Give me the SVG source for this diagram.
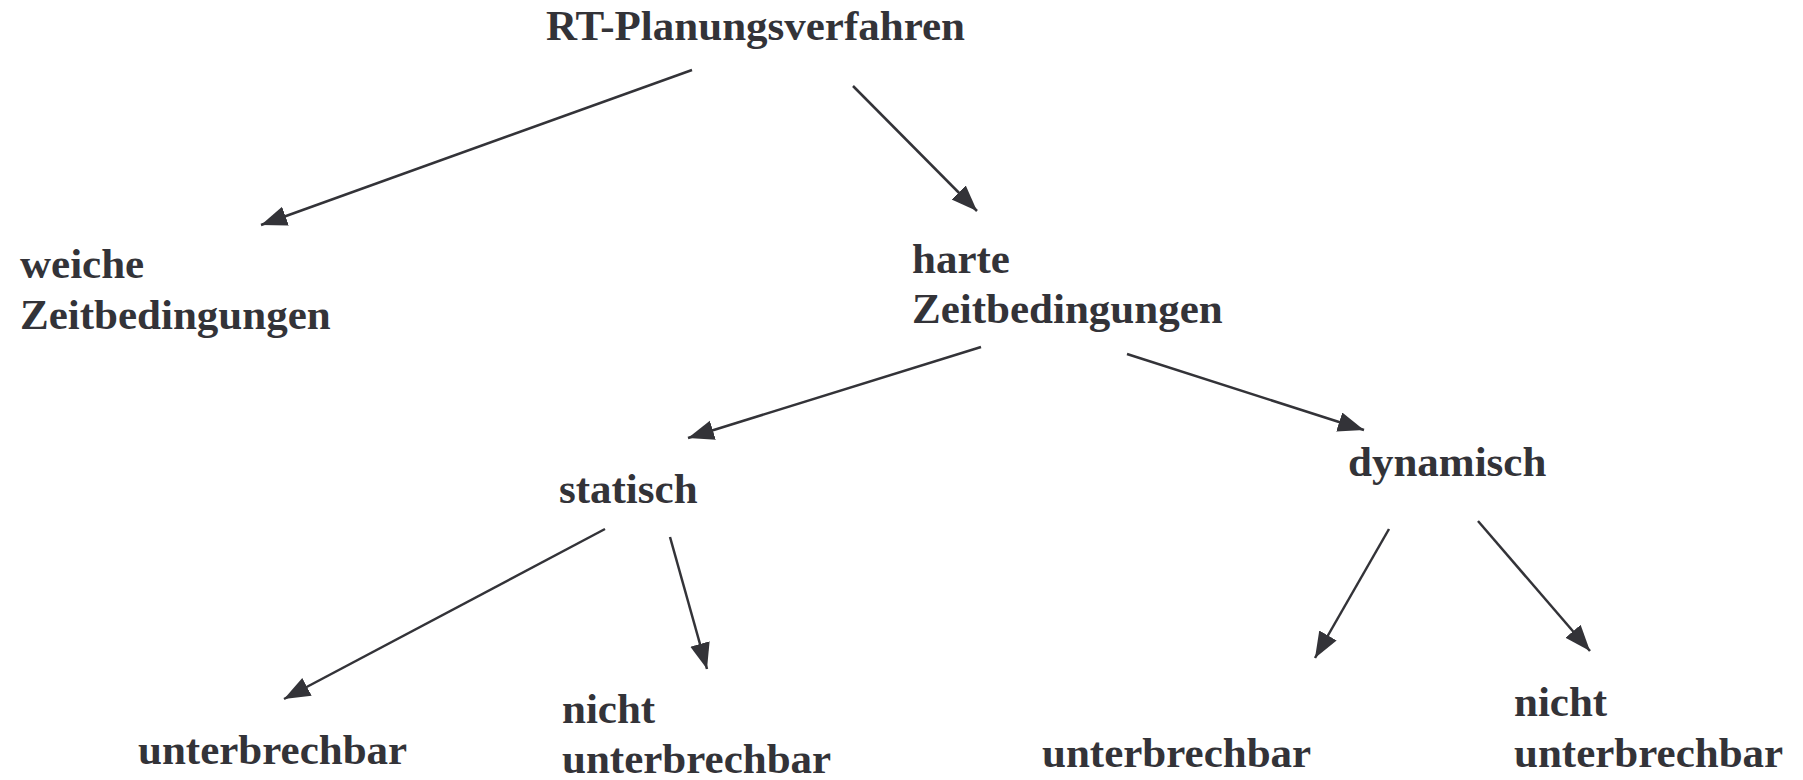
<svg xmlns="http://www.w3.org/2000/svg" width="1803" height="780" viewBox="0 0 1803 780">
<style>
text{font-family:"Liberation Serif","Times New Roman",serif;font-weight:bold;font-size:43px;fill:#333338}
.c line{stroke:#333338;stroke-width:2.5;fill:none;marker-end:url(#ah)}
</style>
<defs>
<marker id="ah" markerUnits="userSpaceOnUse" markerWidth="28" markerHeight="22" refX="26" refY="10" orient="auto" viewBox="0 0 28 22">
<path d="M0,0 L26,10 L0,20 z" fill="#333338"/>
</marker>
</defs>
<rect width="1803" height="780" fill="#fff"/>
<g id="n-root"><text x="546" y="40">RT-Planungsverfahren</text></g>
<g id="n-weich"><text x="20" y="278">weiche</text><text x="20" y="329">Zeitbedingungen</text></g>
<g id="n-hart"><text x="912" y="273">harte</text><text x="912" y="323">Zeitbedingungen</text></g>
<g id="n-statisch"><text x="559" y="503">statisch</text></g>
<g id="n-dynamisch"><text x="1348" y="476">dynamisch</text></g>
<g id="n-s-unt"><text x="138" y="764">unterbrechbar</text></g>
<g id="n-s-nunt"><text x="562" y="723">nicht</text><text x="562" y="773">unterbrechbar</text></g>
<g id="n-d-unt"><text x="1042" y="767">unterbrechbar</text></g>
<g id="n-d-nunt"><text x="1514" y="716">nicht</text><text x="1514" y="767">unterbrechbar</text></g>
<g id="connectors" class="c">
<line x1="692" y1="70" x2="261" y2="225"/>
<line x1="853" y1="86" x2="977" y2="211"/>
<line x1="981" y1="347" x2="688" y2="438"/>
<line x1="1127" y1="354" x2="1364" y2="430"/>
<line x1="605" y1="529" x2="284" y2="699"/>
<line x1="670" y1="537" x2="707" y2="669"/>
<line x1="1389" y1="529" x2="1315" y2="658"/>
<line x1="1478" y1="521" x2="1590" y2="651"/>
</g>
</svg>
